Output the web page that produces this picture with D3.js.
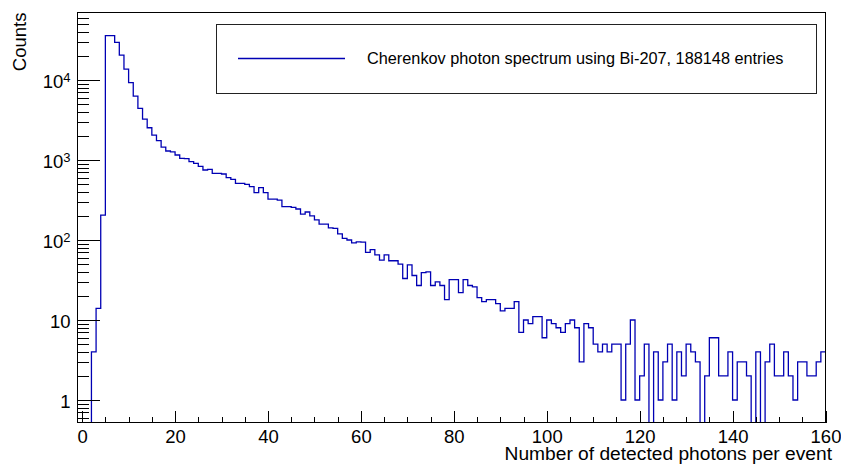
<!DOCTYPE html>
<html>
<head>
<meta charset="utf-8">
<script src="https://cdn.jsdelivr.net/npm/d3@7"></script>
<style>
  html, body { margin: 0; padding: 0; background: #fff; }
  svg { display: block; font-family: "Liberation Sans", Arial, Helvetica, sans-serif; }
</style>
</head>
<body>
<svg id="chart" width="841" height="464"></svg>
<script>
// ---------------- data ----------------
const binLow = -1;          // lower edge of first bin
const binWidth = 1;
// counts per bin, bins [-1,0), [0,1), ... [159,160)
const counts = [
  0, 0, 0, 4, 14, 205, 35800, 35800, 29600, 20500,
  13700, 9260, 6300, 4420, 3250, 2530, 2050, 1745, 1450, 1296,
  1260, 1155, 1050, 1040, 952, 908, 830, 750, 764, 681,
  681, 668, 601, 573, 511, 511, 497, 464, 390, 451,
  390, 325, 325, 316, 261, 261, 256, 244, 211, 224,
  200, 178, 158, 158, 142, 140, 119, 105, 100, 92,
  95, 94, 70, 76, 65, 56, 65, 55, 55, 50,
  33, 49, 36, 27, 39, 40, 27, 30, 27, 18,
  32, 32, 22, 32, 27, 26, 19, 17, 18, 18,
  16, 13, 14, 14, 17, 7, 10, 9, 11, 11,
  6, 10, 9, 8, 7, 9, 10, 8, 3, 9,
  8, 5, 4, 5, 4, 5, 5, 1, 5, 10,
  1, 2, 5, 0, 4, 1, 3, 5, 1, 4,
  2, 5, 4, 3, 0, 2, 6, 6, 2, 2,
  4, 1, 3, 3, 2, 0, 4, 0, 3, 5,
  2, 2, 4, 2, 1, 3, 3, 2, 2, 3,
  4
];
const xMajorTicks = [0, 20, 40, 60, 80, 100, 120, 140, 160];
const xMinorStep = 5;
const yMajorTicks = [1, 10, 100, 1000, 10000];
const yTickLabels = [["1", ""], ["10", ""], ["10", "2"], ["10", "3"], ["10", "4"]];
const xTitle = "Number of detected photons per event";
const yTitle = "Counts";
const legendText = "Cherenkov photon spectrum using Bi-207, 188148 entries";

// ---------------- layout ----------------
const frame = { left: 77.5, right: 825.5, top: 12.5, bottom: 422.5 };
const lineColor = "#0000b4";
const font = 18.5;

const svg = d3.select("#chart");

const x = d3.scaleLinear()
  .domain([binLow, binLow + counts.length * binWidth])
  .range([frame.left, frame.right]);

const y = d3.scaleLog()
  .domain([Math.pow(10, -22.5 / 80), Math.pow(10, 4 + 60 / 80 + 7.5 / 80)])
  .range([frame.bottom, frame.top]);

// clip
svg.append("clipPath").attr("id", "clip")
  .append("rect")
  .attr("x", frame.left).attr("y", frame.top)
  .attr("width", frame.right - frame.left)
  .attr("height", frame.bottom - frame.top);

// histogram steps
const pts = counts.map((c, i) => ({ e: binLow + i * binWidth, c }));
pts.push({ e: binLow + counts.length * binWidth, c: counts[counts.length - 1] });
const line = d3.line()
  .x(d => x(d.e))
  .y(d => d.c > 0 ? y(d.c) : frame.bottom + 2)
  .curve(d3.curveStepAfter);

svg.append("path")
  .attr("clip-path", "url(#clip)")
  .attr("d", line(pts))
  .attr("fill", "none")
  .attr("stroke", lineColor)
  .attr("stroke-width", 1.3);

// ---------------- axes ----------------
const xMinor = d3.range(0, 161, xMinorStep).filter(v => xMajorTicks.indexOf(v) < 0);

const gxMinor = svg.append("g")
  .attr("transform", `translate(0,${frame.bottom})`)
  .call(d3.axisBottom(x).tickValues(xMinor).tickSize(-6).tickFormat(""));
const gx = svg.append("g")
  .attr("transform", `translate(0,${frame.bottom})`)
  .call(d3.axisBottom(x).tickValues(xMajorTicks).tickSize(-12).tickPadding(7.5).tickFormat(d3.format("d")));
[gx, gxMinor].forEach(g => {
  g.select(".domain").remove();
  g.selectAll("line").attr("stroke", "#000").attr("shape-rendering", "crispEdges");
});
gx.selectAll("text")
  .attr("font-size", font)
  .attr("font-family", "Liberation Sans, Arial, Helvetica, sans-serif")
  .attr("fill", "#000");

// y minor ticks
const [yMin, yMax] = y.domain();
const yMinor = [];
for (let k = -1; k <= 4; k++) {
  for (let m = 2; m <= 9; m++) {
    const v = m * Math.pow(10, k);
    if (v >= yMin && v <= yMax) yMinor.push(v);
  }
}
const gyMinor = svg.append("g")
  .attr("transform", `translate(${frame.left},0)`)
  .call(d3.axisLeft(y).tickValues(yMinor).tickSize(-11).tickFormat(""));
const gy = svg.append("g")
  .attr("transform", `translate(${frame.left},0)`)
  .call(d3.axisLeft(y).tickValues(yMajorTicks).tickSize(-22).tickFormat(""));
[gy, gyMinor].forEach(g => {
  g.select(".domain").remove();
  g.selectAll("line").attr("stroke", "#000").attr("shape-rendering", "crispEdges");
});

// y labels with superscripts
yMajorTicks.forEach((v, i) => {
  const t = svg.append("text")
    .attr("x", 70.5)
    .attr("y", y(v) + 7.5)
    .attr("text-anchor", "end")
    .attr("font-size", font)
    .attr("fill", "#000");
  t.append("tspan").text(yTickLabels[i][0]);
  if (yTickLabels[i][1]) {
    t.append("tspan").attr("font-size", 13).attr("dy", -5.5).text(yTickLabels[i][1]);
  }
});

// frame
svg.append("rect")
  .attr("x", frame.left).attr("y", frame.top)
  .attr("width", frame.right - frame.left)
  .attr("height", frame.bottom - frame.top)
  .attr("fill", "none")
  .attr("stroke", "#000")
  .attr("stroke-width", 1)
  .attr("shape-rendering", "crispEdges");

// titles
svg.append("text")
  .attr("x", 832).attr("y", 460)
  .attr("text-anchor", "end")
  .attr("font-size", 19.2)
  .attr("fill", "#000")
  .text(xTitle);

svg.append("text")
  .attr("transform", "translate(25.5,12.5) rotate(-90)")
  .attr("text-anchor", "end")
  .attr("font-size", font)
  .attr("fill", "#000")
  .text(yTitle);

// legend
const lg = svg.append("g");
lg.append("rect")
  .attr("x", 216.5).attr("y", 24.5)
  .attr("width", 600).attr("height", 69)
  .attr("fill", "#fff")
  .attr("stroke", "#222")
  .attr("stroke-width", 1)
  .attr("shape-rendering", "crispEdges");
lg.append("line")
  .attr("x1", 238).attr("x2", 345)
  .attr("y1", 58.5).attr("y2", 58.5)
  .attr("stroke", lineColor)
  .attr("stroke-width", 1.3);
lg.append("text")
  .attr("x", 367).attr("y", 64)
  .attr("font-size", 16.3)
  .attr("fill", "#000")
  .text(legendText);
</script>
</body>
</html>
